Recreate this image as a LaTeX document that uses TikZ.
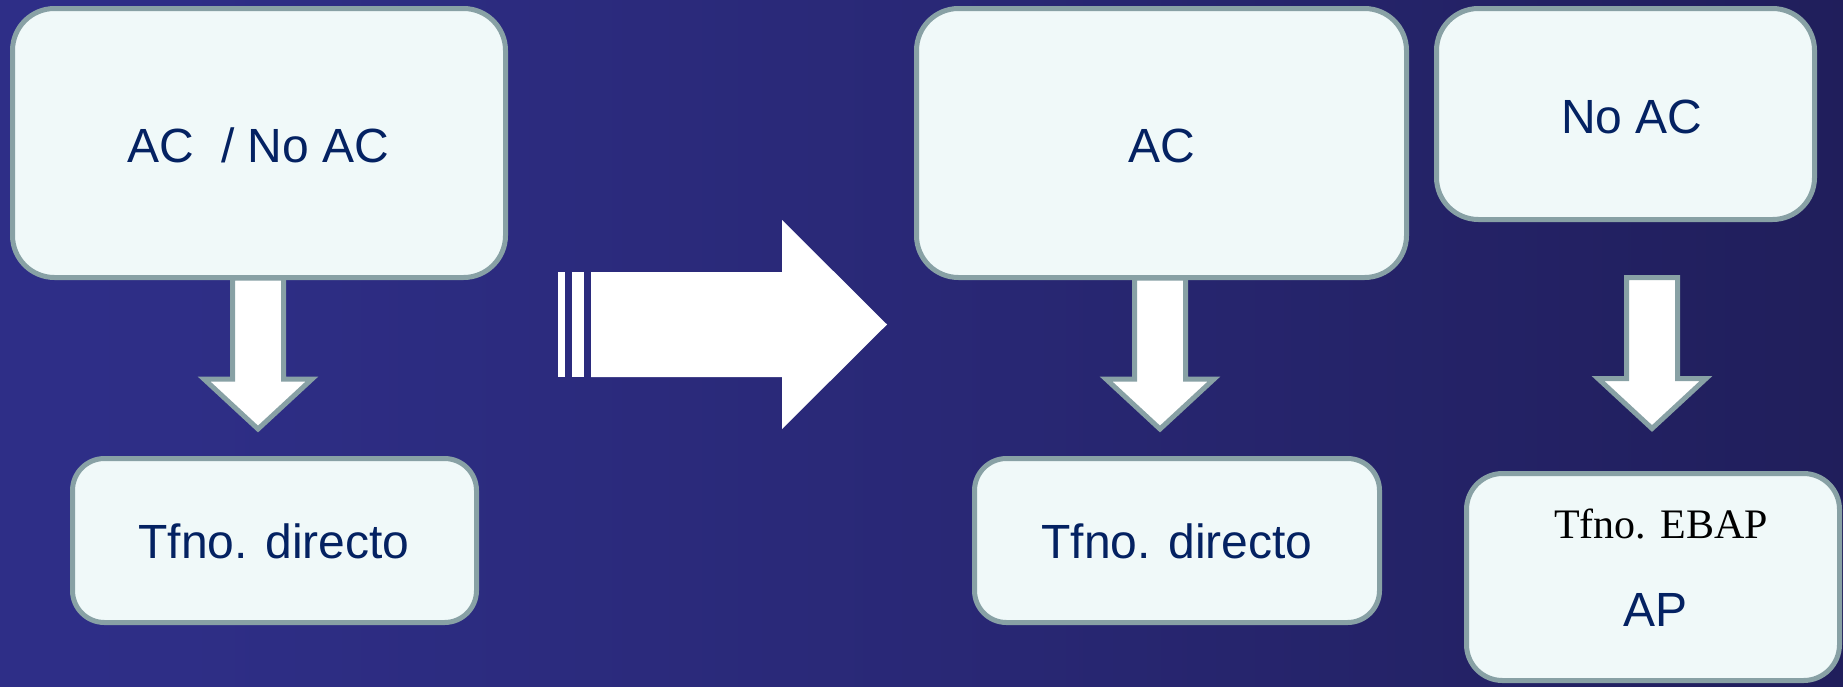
\documentclass[tikz,border=0pt]{standalone}
\usepackage{fontspec}
\setmainfont{Liberation Sans}
\newfontfamily\timesfont{Liberation Serif}
\usetikzlibrary{calc}
\definecolor{boxfill}{RGB}{240,249,249}
\definecolor{boxline}{RGB}{136,161,165}
\definecolor{txtblue}{RGB}{4,34,98}
\pgfdeclarehorizontalshading{bgshade}{100bp}{rgb(0bp)=(0.192,0.192,0.561); rgb(30bp)=(0.180,0.180,0.525); rgb(50bp)=(0.161,0.157,0.463); rgb(78bp)=(0.122,0.114,0.345); rgb(100bp)=(0.106,0.102,0.290)}
\tikzset{
  box/.style={draw=boxline, line width=5pt, fill=boxfill, rounded corners=#1, inner sep=0pt},
  box/.default=42pt,
  lbl/.style={anchor=base, text=txtblue, font=\fontsize{48}{56}\selectfont, inner sep=0pt},
  blockarrow/.style={draw=boxline, fill=white, line width=5pt, line join=miter},
  whitearrow/.style={fill=white, draw=none}
}
\begin{document}
\begin{tikzpicture}[x=1pt, y=-1pt]
\useasboundingbox (0,0) rectangle (1843,686);
\shade[shading=bgshade] (0,0) rectangle (1843,686);

% boxes
\node[box, minimum width=493pt, minimum height=269pt] (b1) at (259,143) {};
\node[box=32pt, minimum width=404pt, minimum height=164pt] (b2) at (274.5,540.5) {};
\node[box, minimum width=490pt, minimum height=269pt] (b3) at (1161.5,143) {};
\node[box, minimum width=378pt, minimum height=211pt] (b4) at (1625.5,114) {};
\node[box=32pt, minimum width=405pt, minimum height=164pt] (b5) at (1177,540.5) {};
\node[box=36pt, minimum width=373pt, minimum height=207pt] (b6) at (1653,577) {};

% down arrows
\begin{scope}[shift={(258,278)}]
\draw[blockarrow] (-25.5,0) -- (25.5,0) -- (25.5,101) -- (54,101) -- (0,151) -- (-54,101) -- (-25.5,101) -- cycle;
\end{scope}
\begin{scope}[shift={(1160,278)}]
\draw[blockarrow] (-25.5,0) -- (25.5,0) -- (25.5,101) -- (54,101) -- (0,151) -- (-54,101) -- (-25.5,101) -- cycle;
\end{scope}
\begin{scope}[shift={(1652,277.5)}]
\draw[blockarrow] (-25.5,0) -- (25.5,0) -- (25.5,101) -- (54,101) -- (0,151) -- (-54,101) -- (-25.5,101) -- cycle;
\end{scope}

% big striped arrow
\fill[whitearrow] (558,272) rectangle (565,377);
\fill[whitearrow] (572,272) rectangle (584,377);
\fill[whitearrow] (591,272) -- (782,272) -- (782,220) -- (887,324.5) -- (782,429) -- (782,377) -- (591,377) -- cycle;

% texts
\node[lbl] (t1) at (258.5,162) {AC\ \ / No AC};
\node[lbl] (t2) at (274,558) {Tfno. directo};
\node[lbl] (t3) at (1162,162) {AC};
\node[lbl] (t4) at (1632,133) {No AC};
\node[lbl] (t5) at (1177,558) {Tfno. directo};
\node[anchor=base, inner sep=0pt, text=black, font=\timesfont\fontsize{42}{50}\selectfont] (t6) at (1661,538) {Tfno. EBAP};
\node[lbl] (t7) at (1655.5,626) {AP};
\end{tikzpicture}
\end{document}
